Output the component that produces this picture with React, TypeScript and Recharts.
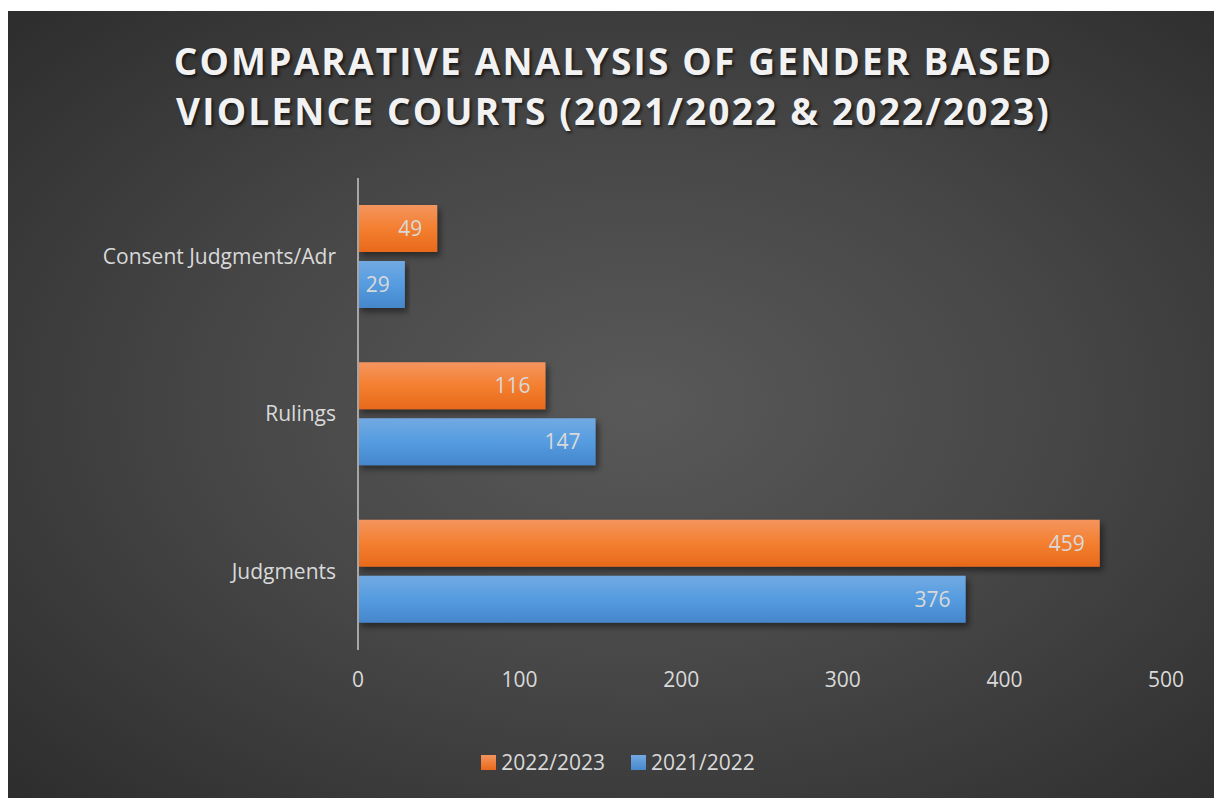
import { BarChart, Bar, XAxis, YAxis, Legend, LabelList } from "recharts";

const categories = ["Consent Judgments/Adr", "Rulings", "Judgments"];
const values2223 = [49, 116, 459];
const values2122 = [29, 147, 376];
const xTicks = [0, 100, 200, 300, 400, 500];

const titleLines = [
  "COMPARATIVE ANALYSIS OF GENDER BASED",
  "VIOLENCE COURTS (2021/2022 & 2022/2023)",
];

const data = categories.map((name, i) => ({
  name,
  y2223: values2223[i],
  y2122: values2122[i],
}));

const FONT = "'Open Sans', 'Noto Sans', sans-serif";
const TEXT = "#d9d9d9";
const FS = 21;

const renderLegend = () => (
  <div style={{ display: "flex", justifyContent: "center", gap: 26, fontFamily: FONT, fontSize: FS, color: TEXT }}>
    {[
      { label: "2022/2023", bg: "linear-gradient(#f4955e, #e9691b)" },
      { label: "2021/2022", bg: "linear-gradient(#72aae2, #4888cc)" },
    ].map((item) => (
      <div key={item.label} style={{ display: "flex", alignItems: "center", gap: 5 }}>
        <span style={{ width: 15, height: 15, background: item.bg, display: "inline-block" }} />
        <span>{item.label}</span>
      </div>
    ))}
  </div>
);

export default function App() {
  return (
    <div
      style={{
        position: "relative",
        marginTop: 3,
        width: 1211,
        height: 787,
        background: "radial-gradient(ellipse 75% 75% at 52% 50%, #595959 0%, #474747 45%, #2b2b2b 100%)",
      }}
    >
      <div
        style={{
          position: "absolute",
          top: 25,
          left: 0,
          width: "100%",
          textAlign: "center",
          fontFamily: FONT,
          fontWeight: 700,
          fontSize: 37,
          lineHeight: "50px",
          letterSpacing: 2.2,
          color: "#f2f2f2",
          textShadow: "2px 2px 3px rgba(0,0,0,0.6)",
        }}
      >
        {titleLines.map((t) => (
          <div key={t}>{t}</div>
        ))}
      </div>
      <BarChart
        width={1211}
        height={787}
        data={data}
        layout="vertical"
        margin={{ top: 167, right: 53, bottom: 78, left: 0 }}
        barCategoryGap={27}
        barGap={9}
        style={{ position: "absolute", top: 0, left: 0 }}
      >
        <defs>
          <linearGradient id="orangeGrad" x1="0" y1="0" x2="0" y2="1">
            <stop offset="0%" stopColor="#f4955e" />
            <stop offset="50%" stopColor="#f47f30" />
            <stop offset="100%" stopColor="#e8691b" />
          </linearGradient>
          <linearGradient id="blueGrad" x1="0" y1="0" x2="0" y2="1">
            <stop offset="0%" stopColor="#72aae2" />
            <stop offset="50%" stopColor="#559ce0" />
            <stop offset="100%" stopColor="#4686cb" />
          </linearGradient>
          <filter id="barShadow" x="-5%" y="-20%" width="115%" height="160%">
            <feDropShadow dx="3" dy="4" stdDeviation="3" floodColor="#000" floodOpacity="0.45" />
          </filter>
        </defs>
        <XAxis
          type="number"
          domain={[0, 500]}
          ticks={xTicks}
          axisLine={false}
          tickLine={false}
          tickSize={0}
          tickMargin={22}
          height={40}
          tick={{ fill: TEXT, fontSize: FS, fontFamily: FONT }}
        />
        <YAxis
          type="category"
          dataKey="name"
          width={350}
          axisLine={{ stroke: "#a6a6a6", strokeWidth: 2 }}
          tickLine={false}
          tickSize={0}
          tickMargin={22}
          tick={{ fill: TEXT, fontSize: FS, fontFamily: FONT }}
        />
        <Legend
          verticalAlign="bottom"
          height={30}
          wrapperStyle={{ bottom: 20, left: 31, width: 1158 }}
          content={renderLegend}
        />
        <Bar dataKey="y2223" name="2022/2023" fill="url(#orangeGrad)" filter="url(#barShadow)" isAnimationActive={false}>
          <LabelList dataKey="y2223" position="insideRight" offset={15} fill={TEXT} fontSize={FS} fontFamily={FONT} />
        </Bar>
        <Bar dataKey="y2122" name="2021/2022" fill="url(#blueGrad)" filter="url(#barShadow)" isAnimationActive={false}>
          <LabelList dataKey="y2122" position="insideRight" offset={15} fill={TEXT} fontSize={FS} fontFamily={FONT} />
        </Bar>
      </BarChart>
    </div>
  );
}
